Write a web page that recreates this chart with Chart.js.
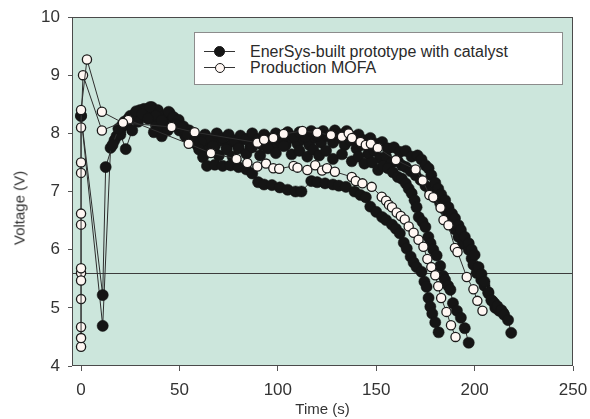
<!DOCTYPE html>
<html>
<head>
<meta charset="utf-8">
<script src="https://cdn.jsdelivr.net/npm/chart.js@4/dist/chart.umd.min.js"></script>
<style>
html,body{margin:0;padding:0;background:#fff;}
#wrap{position:relative;width:590px;height:419px;overflow:hidden;}
#chart{position:absolute;left:0;top:0;}
#ytitle{position:absolute;left:19px;top:208px;transform:translate(-50%,-50%) rotate(-90deg);white-space:nowrap;
  font-family:"Liberation Sans",Arial,sans-serif;font-size:15px;color:#333;}
#legend{position:absolute;left:194px;top:32px;width:367px;height:51px;background:#fff;border:1px solid #8c8c8c;
  font-family:"Liberation Sans",Arial,sans-serif;font-size:16px;color:#2a2a2a;}
.row{position:absolute;left:0;height:16px;line-height:16px;white-space:nowrap;}
.sw{position:absolute;left:9px;top:0;width:31px;height:16px;}
.ln{position:absolute;left:0;top:7px;width:31px;height:0;border-top:1px solid #333;}
.dot{position:absolute;left:10px;top:2px;width:11px;height:11px;border-radius:50%;box-sizing:border-box;}
.dot.black{background:#161616;border:1px solid #161616;}
.dot.white{left:11px;top:3px;width:10px;height:10px;background:#fff7f3;border:1.3px solid #1a1a1a;}
.lbl{position:absolute;left:55px;top:0;}
</style>
</head>
<body>
<div id="wrap">
  <canvas id="chart" width="590" height="419"></canvas>
  <div id="ytitle"></div>
  <div id="legend">
    <div class="row" style="top:11px"><span class="sw"><span class="ln"></span><span class="dot black"></span></span><span class="lbl" id="lbl0"></span></div>
    <div class="row" style="top:27px"><span class="sw"><span class="ln"></span><span class="dot white"></span></span><span class="lbl" id="lbl1"></span></div>
  </div>
</div>
<script>
// ---- axis / labels ----
const xTickValues = [0, 50, 100, 150, 200, 250];
const yTickValues = [4, 5, 6, 7, 8, 9, 10];
const xMin = -4.6, xMax = 250, yMin = 4, yMax = 10;
const xTitle = "Time (s)";
const yTitle = "Voltage (V)";
const seriesNames = ["EnerSys-built prototype with catalyst", "Production MOFA"];
const thresholdVoltage = 5.6;

// ---- EnerSys-built prototype with catalyst: test runs [time s, voltage V] ----
const enerRunA = [[0,8.30],[11,5.22],[12.5,7.42],[16,7.80],[19,8.08],[22,8.20],[25,8.30],[28,8.38],[31,8.33],[34,8.25],[37,8.02],[41,7.95],[44,8.05],[48,8.15],[51,8.10],[54,7.98],[57,7.85],[60,7.72],[62,7.59],[64,7.44],[68,7.46],[72,7.44],[76,7.45],[80,7.42],[84,7.38],[87,7.31],[90,7.16],[93,7.12],[97,7.11],[101,7.07],[105,7.03],[109,7.00],[112,7.00],[117,7.18],[120,7.16],[124,7.14],[128,7.12],[131,7.10],[134.6,7.08],[139,7.00],[142,6.94],[144.7,6.90],[147,6.74],[150,6.65],[153,6.56],[155,6.51],[158,6.43],[160,6.36],[162,6.28],[164,6.12],[165.5,6.02],[167.5,5.88],[169,5.78],[170.5,5.70],[173,5.62],[174.5,5.45],[175.6,5.36],[176.6,5.17],[177.5,5.02],[178.5,4.90],[180,4.75],[181.7,4.58]];
const enerRunB = [[0,8.30],[11,4.69],[15,7.75],[17,7.88],[20,7.98],[22.7,7.73],[26,8.05],[29,8.20],[32,8.38],[35,8.45],[38,8.30],[41,8.22],[44.5,8.37],[47,8.28],[49.6,8.23],[52,8.12],[55,8.05],[58,7.94],[61,7.85],[64,7.70],[67,7.78],[70,7.62],[74,7.72],[77,7.60],[80,7.74],[84,7.65],[87,7.76],[91,7.62],[95,7.74],[99,7.66],[103,7.78],[107,7.64],[111,7.70],[115,7.60],[118,7.72],[121,7.62],[124.5,7.70],[128,7.56],[132.6,7.64],[137.6,7.52],[141,7.60],[144,7.48],[148,7.50],[151,7.37],[153.5,7.44],[156,7.40],[158.5,7.33],[161,7.25],[163,7.22],[165,7.14],[166.5,7.05],[168,6.97],[169.5,6.85],[170.5,6.73],[171.6,6.56],[173.5,6.48],[175,6.39],[176.5,6.22],[177.6,6.11],[179,6.00],[180.7,5.90],[182.5,5.72],[184,5.55],[185,5.48],[186.5,5.38],[187.7,5.31],[189,5.08],[191,4.95],[193,4.83],[195,4.65],[197,4.40]];
const enerRunC = [[18,7.95],[21,8.15],[24,8.25],[27,8.32],[30,8.40],[33,8.35],[36,8.45],[39,8.40],[42,8.30],[45,8.35],[48,8.20],[51,8.11],[54,8.02],[57,7.98],[60,7.88],[63,7.98],[66,7.90],[69,8.00],[72,7.92],[75,7.98],[78,7.88],[81,7.96],[84,7.90],[87,8.00],[90,7.90],[93,7.98],[96,7.88],[99,8.00],[102,7.92],[105,8.02],[108,7.94],[111,8.02],[114,7.94],[117,8.04],[120,7.96],[123,8.04],[126,7.96],[129,8.05],[132,7.98],[135,8.04],[138,7.94],[141,7.98],[144,7.88],[147,7.92],[150,7.82],[153,7.85],[156,7.74],[159,7.76],[162,7.68],[165,7.70],[168,7.60],[171,7.62],[173,7.55],[175,7.45],[176.6,7.40],[178,7.28],[180,7.15],[181.5,7.05],[183,6.95],[185,6.85],[186.7,6.73],[188.5,6.62],[190,6.54],[191.8,6.42],[193,6.34],[195,6.22],[197,6.11],[198.5,6.00],[200,5.91],[202,5.70],[203.5,5.58],[205,5.45],[207,5.25],[208.5,5.13],[210,5.08],[211.5,5.03],[213.6,4.96],[215,4.88],[217,4.79],[218.6,4.57]];
const enerRunD = [[20,8.05],[23,8.15],[26,8.25],[29,8.35],[32,8.42],[35,8.30],[38,8.15],[40,8.05],[43,8.20],[46,8.25],[50,8.05],[53,7.95],[56,7.90],[59,7.80],[62,7.75],[65,7.86],[68,7.78],[71,7.88],[74,7.76],[77,7.86],[80,7.78],[83,7.90],[86,7.76],[89,7.86],[92,7.80],[95,7.92],[98,7.78],[101,7.88],[104,7.80],[107,7.92],[110,7.82],[113,7.90],[116,7.80],[119,7.92],[122,7.84],[125,7.95],[128,7.84],[131,7.92],[134,7.80],[137,7.88],[140,7.74],[143,7.80],[146,7.65],[149,7.70],[152,7.58],[155,7.60],[158,7.50],[161,7.52],[163,7.45],[165,7.42],[167.5,7.35],[170,7.28],[172.5,7.20],[175,7.10],[177.5,7.00],[180,6.90],[182.5,6.80],[185,6.68],[187,6.55],[188.5,6.45],[190,6.35],[191.8,6.22],[194,6.10],[197,6.00],[198.5,5.85],[199.4,5.74],[201,5.60],[203.4,5.48],[205,5.38],[207,5.27],[209,5.12],[210.5,5.00],[212.5,4.95],[214.6,4.91]];

// ---- Production MOFA: test runs [time s, voltage V] ----
const mofaRunA = [[0,4.48],[0,5.47],[0,5.68],[0,6.62],[0,7.50],[0,8.40],[3,9.27],[10.6,8.37],[21.3,8.18],[46,8.11],[57.7,8.02],[89.6,7.84],[93,7.89],[97.7,7.92],[103,7.99],[112.5,8.04],[120,8.01],[127,7.97],[132.6,7.94],[136,8.00],[137.7,7.92],[142,7.85],[144.7,7.80],[147.3,7.82],[150.8,7.75],[160,7.54],[170,7.38],[173.6,7.19],[177,6.94],[179,6.90],[182.7,6.72],[184.2,6.51],[186.7,6.42],[190,6.03],[191.3,5.96],[196,5.53],[199.4,5.32],[201.4,5.12],[204,4.95]];
const mofaRunB = [[0,4.33],[0,4.67],[0,5.15],[0,5.60],[0,6.43],[0,7.32],[0,8.10],[1,9.00],[10.6,8.05],[24,8.23],[54.7,7.82],[66,7.66],[79,7.56],[84.5,7.49],[89.6,7.43],[94,7.48],[97.7,7.40],[100.7,7.39],[108,7.44],[110,7.41],[115,7.37],[119,7.45],[122.5,7.36],[125,7.40],[129,7.34],[137.6,7.25],[139.6,7.18],[143,7.14],[147.7,7.08],[152.8,6.91],[155,6.84],[156.5,6.77],[158,6.73],[160.4,6.64],[162.5,6.58],[164.5,6.52],[166.5,6.40],[169,6.29],[171.5,6.17],[174,6.05],[176,5.84],[178,5.70],[180,5.56],[181.5,5.37],[183,5.17],[185.7,4.93],[188,4.70],[190.3,4.50]];

const enerRuns = [enerRunA, enerRunB, enerRunC, enerRunD];
const mofaRuns = [mofaRunA, mofaRunB];

const toXY = run => run.map(([x, y]) => ({x, y}));
const FONT = '"Liberation Sans", Arial, sans-serif';

const datasets = [];
mofaRuns.forEach(run => datasets.push({
  label: seriesNames[1], data: toXY(run), showLine: true,
  borderColor: '#2e2e2e', borderWidth: 1,
  pointRadius: 4.6, pointBackgroundColor: '#fff7f3', pointBorderColor: '#1a1a1a', pointBorderWidth: 1.3,
  order: 0
}));
enerRuns.forEach(run => datasets.push({
  label: seriesNames[0], data: toXY(run), showLine: true,
  borderColor: '#2e2e2e', borderWidth: 1,
  pointRadius: 5.6, pointBackgroundColor: '#151515', pointBorderColor: '#151515', pointBorderWidth: 0.5,
  order: 1
}));

const framePlugin = {
  id: 'frame',
  beforeDraw(chart) {
    const {ctx, chartArea: {left, top, right, bottom}} = chart;
    ctx.save();
    ctx.fillStyle = '#cce6dc';
    ctx.fillRect(left, top, right - left, bottom - top);
    ctx.restore();
  },
  beforeDatasetsDraw(chart) {
    const {ctx, chartArea: {left, top, right, bottom}, scales: {y}} = chart;
    ctx.save();
    ctx.lineWidth = 1;
    ctx.strokeStyle = '#3c3c3c';
    const yy = Math.round(y.getPixelForValue(thresholdVoltage)) + 0.5;
    ctx.beginPath(); ctx.moveTo(left, yy); ctx.lineTo(right, yy); ctx.stroke();
    ctx.strokeStyle = '#4a4a4a';
    ctx.strokeRect(left + 0.5, top + 0.5, right - left - 1, bottom - top - 1);
    ctx.restore();
  }
};

new Chart(document.getElementById('chart'), {
  type: 'scatter',
  data: { datasets },
  plugins: [framePlugin],
  options: {
    responsive: false,
    animation: false,
    layout: { padding: { left: 0, right: 17, top: 17, bottom: 0 } },
    plugins: { legend: { display: false }, tooltip: { enabled: false } },
    scales: {
      x: {
        type: 'linear', min: xMin, max: xMax,
        afterBuildTicks: s => { s.ticks = xTickValues.map(v => ({ value: v })); },
        afterFit: s => { s.height = 53; s.paddingLeft = 0; s.paddingRight = 0; },
        grid: { drawOnChartArea: false, drawTicks: true, tickLength: 5, color: '#555' },
        border: { display: false },
        ticks: { font: { family: FONT, size: 17 }, color: '#333', padding: 9, maxRotation: 0, autoSkip: false },
        title: { display: true, text: xTitle, font: { family: FONT, size: 15 }, color: '#333', padding: { top: 0, bottom: 0 } }
      },
      y: {
        type: 'linear', min: yMin, max: yMax,
        afterBuildTicks: s => { s.ticks = yTickValues.map(v => ({ value: v })); },
        afterFit: s => { s.width = 72; s.paddingTop = 0; s.paddingBottom = 0; },
        grid: { drawOnChartArea: false, drawTicks: true, tickLength: 4, color: '#555' },
        border: { display: false },
        ticks: { font: { family: FONT, size: 17 }, color: '#333', padding: 8, autoSkip: false },
        title: { display: false }
      }
    }
  }
});

document.getElementById('ytitle').textContent = yTitle;
document.getElementById('lbl0').textContent = seriesNames[0];
document.getElementById('lbl1').textContent = seriesNames[1];
</script>
</body>
</html>
